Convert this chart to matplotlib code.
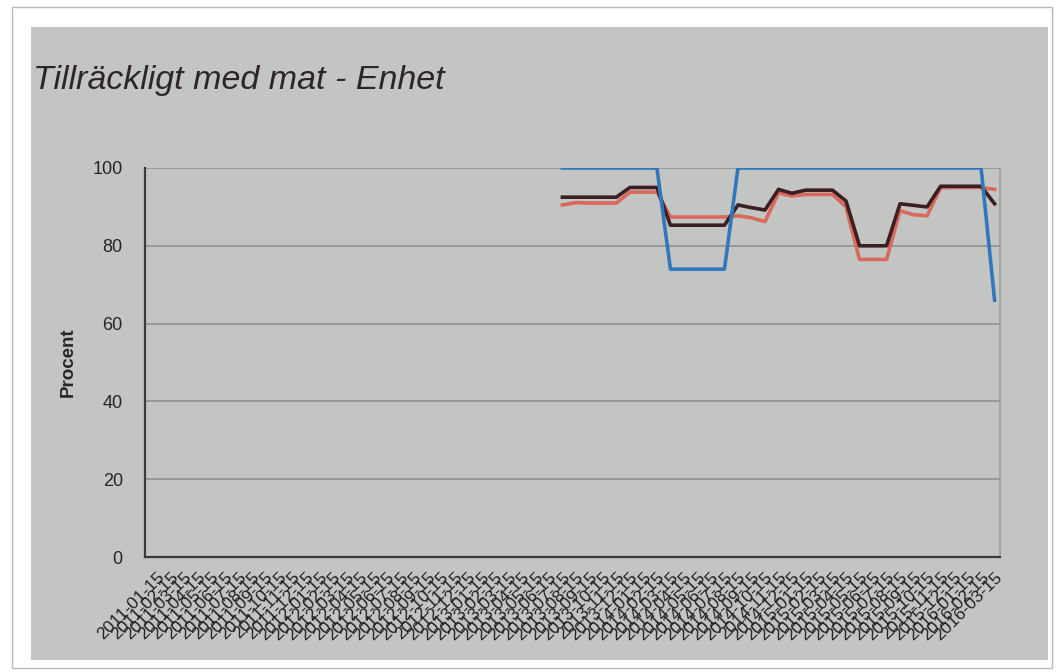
import numpy as np
import matplotlib
matplotlib.use("Agg")
import matplotlib.pyplot as plt
from matplotlib.patches import Rectangle

plt.rcParams['font.family'] = ['Liberation Sans', 'DejaVu Sans']

# Monthly measurement dates, 2011-01 .. 2016-03
dates = [f"{y}-{m:02d}-15" for y in range(2011, 2017) for m in range(1, 13)
         if not (y == 2016 and m > 3)]

nan = np.nan
# Values exist from 2013-07 onwards; earlier months have no data
blue = [nan] * 30 + [100, 100, 100, 100, 100, 100, 100, 100,
                     74, 74, 74, 74, 74,
                     100, 100, 100, 100, 100, 100, 100, 100, 100, 100,
                     100, 100, 100, 100, 100, 100, 100, 100, 100,
                     66]
dark = [nan] * 30 + [92.5, 92.5, 92.5, 92.5, 92.5, 95, 95, 95,
                     85.3, 85.3, 85.3, 85.3, 85.3,
                     90.5, 89.8, 89.2, 94.5, 93.5, 94.3, 94.3, 94.3,
                     91.5, 80, 80, 80, 90.8, 90.4, 90, 95.3, 95.3, 95.3, 95.3,
                     90.8]
red = [nan] * 30 + [90.5, 91.1, 91, 91, 91, 93.8, 93.8, 93.8,
                    87.4, 87.4, 87.4, 87.4, 87.4,
                    87.7, 87.2, 86.2, 93.6, 92.8, 93.2, 93.2, 93.2,
                    90, 76.5, 76.5, 76.5, 89, 88, 87.7, 94.9, 95, 95, 95,
                    94.5]

yticks = [0, 20, 40, 60, 80, 100]

W, H = 1056, 672
fig = plt.figure(figsize=(W / 100, H / 100), dpi=100, facecolor='white')

# page frame and grey panel behind the chart
fig.patches.append(Rectangle((12 / W, 1 - 668 / H), 1040 / W, 661 / H,
                             transform=fig.transFigure, facecolor='white',
                             edgecolor='#b8b8b8', linewidth=1.0, zorder=-3))
fig.patches.append(Rectangle((31 / W, 1 - 660 / H), 1017 / W, 633 / H,
                             transform=fig.transFigure, facecolor='#c3c5c2',
                             edgecolor='none', zorder=-2))

fig.text(33 / W, 1 - 89 / H, "Tillräckligt med mat - Enhet", fontsize=24.5,
         fontstyle='italic', color='#2e2626', ha='left', va='baseline')

ax = fig.add_axes([145 / W, 1 - 557 / H, 855 / W, 389 / H])
ax.set_facecolor('none')
ax.set_zorder(2)

x = np.arange(len(dates))
ax.plot(x, red, color='#d8695c', linewidth=2.6, zorder=3)
ax.plot(x, dark, color='#3b1f22', linewidth=2.6, zorder=4)
ax.plot(x, blue, color='#2f78bd', linewidth=2.6, zorder=5)

ax.set_xlim(-0.9, len(dates) - 0.6)
ax.set_ylim(0, 100)
ax.set_yticks(yticks)
ax.set_yticklabels([str(v) for v in yticks], fontsize=13, color='#262626')
ax.yaxis.grid(True, color='#8a8c89', linewidth=1.1)
ax.set_axisbelow(True)

ax.set_xticks(x)
ax.set_xticklabels(dates, rotation=45, ha='right', rotation_mode='anchor',
                   fontsize=12.5, color='#222222')
ax.tick_params(axis='x', length=0, pad=9)
ax.tick_params(axis='y', length=0, pad=16)

ax.set_ylabel("Procent", fontsize=13.5, fontweight='bold', color='#262626')
ax.yaxis.set_label_coords(-68 / 855, 0.5)

for side in ('left', 'bottom'):
    ax.spines[side].set_color('#3a3a3a')
    ax.spines[side].set_linewidth(1.6)
ax.spines['right'].set_color('#9a9c99')
ax.spines['right'].set_linewidth(1.1)
ax.spines['top'].set_visible(False)

fig.savefig("out.png", dpi=100, facecolor='white')
